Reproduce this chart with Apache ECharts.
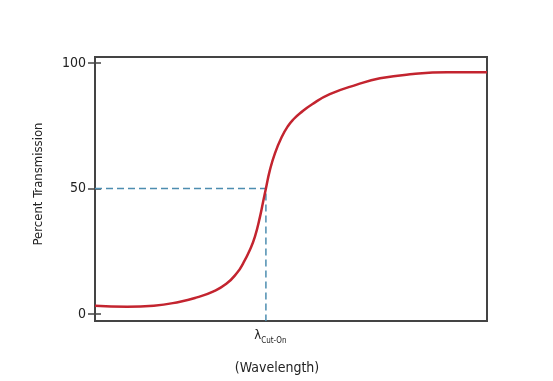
<!DOCTYPE html>
<html><head><meta charset="utf-8">
<script src="https://cdn.jsdelivr.net/npm/echarts@6/dist/echarts.min.js"></script>
<style>html,body{margin:0;padding:0;background:#fff}#c{width:553px;height:381px}</style>
</head><body><div id="c"></div>
<script>
const wavelength = [0, 8.2, 15, 21.7, 26, 30.1, 33.5, 36.2, 37.8, 39.5, 40.8, 42.1, 42.9, 43.6, 44.6, 45.9, 47.6, 49.2, 50.7, 52.3, 55.4, 59.9, 66.8, 72.7, 81.1, 89.8, 100];
const transmission = [3.3, 2.9, 3.3, 4.9, 6.6, 8.9, 12, 16.3, 20.2, 25.5, 30.8, 38.8, 44.8, 50, 57.2, 64, 70.4, 74.8, 77.7, 80.0, 83.6, 87.6, 91.4, 93.9, 95.6, 96.3, 96.3];
const cutOnX = 43.6;
const cutOnY = 50;
const yTicks = [0, 50, 100];
const yMin = -2.8, yMax = 102.4;
const font = '"Liberation Sans Narrow", "DejaVu Sans Condensed", sans-serif';

const chart = echarts.init(document.getElementById('c'));
chart.setOption({
  animation: false,
  grid: {left: 95, right: 66, top: 57, bottom: 60, show: true, borderColor: '#444', borderWidth: 2},
  xAxis: {
    type: 'value', min: 0, max: 100,
    name: '(Wavelength)', nameLocation: 'middle', nameGap: 40,
    nameTextStyle: {fontFamily: font, fontSize: 14, color: '#222', padding: [0, 28, 0, 0]},
    axisLine: {show: true, onZero: false, lineStyle: {color: '#444', width: 2}},
    axisTick: {show: false},
    splitLine: {show: false},
    axisLabel: {
      customValues: [cutOnX], margin: 8,
      formatter: () => '{l|λ}{s|Cut-On}',
      padding: [0, 0, 0, 9],
      rich: {
        l: {fontFamily: font, fontSize: 13, color: '#222', verticalAlign: 'top'},
        s: {fontFamily: font, fontSize: 8, color: '#222', padding: [8, 0, 0, 0]}
      }
    }
  },
  yAxis: [{
    type: 'value', min: yMin, max: yMax,
    name: 'Percent Transmission', nameLocation: 'middle', nameGap: 50, nameRotate: 90,
    nameTextStyle: {fontFamily: font, fontSize: 13, color: '#222', padding: [0, 0, 0, 10]},
    axisLine: {show: true, onZero: false, lineStyle: {color: '#444', width: 2}},
    axisTick: {show: true, customValues: yTicks, length: 7, lineStyle: {color: '#444', width: 1.5}},
    axisLabel: {customValues: yTicks, margin: 9, fontFamily: font, fontSize: 14, color: '#222'},
    splitLine: {show: false}
  }, {
    type: 'value', min: yMin, max: yMax, position: 'left',
    axisLine: {show: false, onZero: false},
    axisTick: {show: true, inside: true, customValues: yTicks, length: 6, lineStyle: {color: '#444', width: 1.5}},
    axisLabel: {show: false},
    splitLine: {show: false}
  }],
  series: [{
    type: 'line',
    data: [[0, cutOnY], [cutOnX, cutOnY], [cutOnX, yMin]],
    symbol: 'none',
    lineStyle: {color: '#4d8db0', width: 1.5, type: [7, 4]},
    z: 1
  }, {
    type: 'line',
    data: wavelength.map((w, i) => [w, transmission[i]]),
    smooth: 0.5,
    symbol: 'none',
    lineStyle: {color: '#c3242f', width: 2.5},
    z: 2
  }]
});
</script></body></html>
